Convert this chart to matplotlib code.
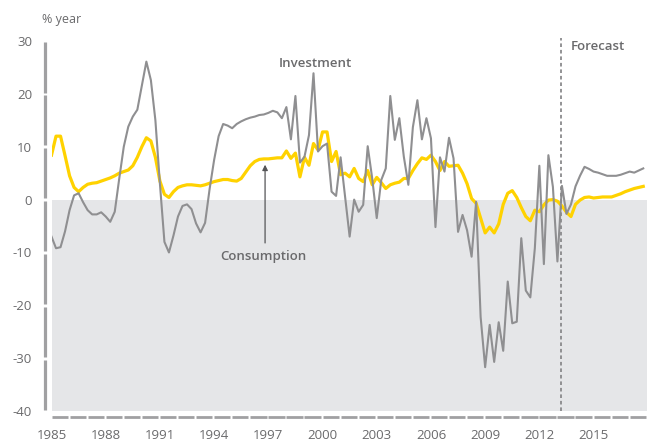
import numpy as np
import matplotlib
matplotlib.use("Agg")
import matplotlib.pyplot as plt

plt.rcParams["font.family"] = ["Open Sans", "DejaVu Sans"]
plt.rcParams["axes.unicode_minus"] = False

# --- data: quarterly % change on a year earlier, 1985Q1 - 2017Q4 ---
start_year = 1985
end_year = 2017
forecast_start = 2013.2

investment = [
    -7.0, -9.2, -9.0, -6.0,      # 1985
    -2.0, 0.8, 1.2, -0.5,        # 1986
    -2.0, -2.8, -2.8, -2.4,      # 1987
    -3.2, -4.2, -2.3, 4.0,       # 1988
    10.0, 13.8, 15.7, 17.0,      # 1989
    21.5, 26.1, 22.6, 15.0,      # 1990
    3.0, -8.0, -10.0, -6.8,      # 1991
    -3.2, -1.2, -0.9, -1.8,      # 1992
    -4.5, -6.2, -4.4, 2.0,       # 1993
    7.5, 12.0, 14.3, 14.0,       # 1994
    13.5, 14.3, 14.8, 15.2,      # 1995
    15.5, 15.7, 16.0, 16.1,      # 1996
    16.4, 16.8, 16.5, 15.4,      # 1997
    17.5, 11.4, 19.6, 7.0,       # 1998
    8.1, 12.2, 23.9, 9.1,        # 1999
    10.1, 10.6, 1.5, 0.7,        # 2000
    8.0, 0.5, -7.0, 0.0,         # 2001
    -2.3, -1.0, 10.1, 4.0,       # 2002
    -3.5, 3.7, 5.9, 19.6,        # 2003
    11.3, 15.4, 8.1, 2.8,        # 2004
    13.7, 18.8, 11.4, 15.4,      # 2005
    11.6, -5.2, 8.0, 5.3,        # 2006
    11.7, 7.8, -6.1, -2.9,       # 2007
    -5.8, -10.8, -0.4, -22.2,    # 2008
    -31.7, -23.7, -30.7, -23.2,  # 2009
    -28.6, -15.5, -23.4, -23.1,  # 2010
    -7.3, -17.2, -18.5, -9.2,    # 2011
    6.4, -12.2, 8.4, 2.4,        # 2012
    -11.7, 2.6, -2.7, -0.9,      # 2013
    2.5, 4.5, 6.2, 5.8,          # 2014
    5.3, 5.1, 4.8, 4.5,          # 2015
    4.5, 4.5, 4.7, 5.0,          # 2016
    5.3, 5.1, 5.5, 5.9,          # 2017
]

consumption = [
    8.4, 12.0, 12.0, 8.3,        # 1985
    4.5, 2.3, 1.5, 2.3,          # 1986
    2.9, 3.1, 3.2, 3.5,          # 1987
    3.8, 4.1, 4.5, 5.0,          # 1988
    5.3, 5.6, 6.4, 8.0,          # 1989
    10.0, 11.7, 11.1, 8.0,       # 1990
    3.5, 1.0, 0.4, 1.5,          # 1991
    2.3, 2.6, 2.8, 2.8,          # 1992
    2.7, 2.6, 2.8, 3.1,          # 1993
    3.4, 3.6, 3.8, 3.8,          # 1994
    3.6, 3.5, 4.0, 5.2,          # 1995
    6.4, 7.2, 7.6, 7.7,          # 1996
    7.7, 7.8, 7.9, 7.9,          # 1997
    9.2, 7.8, 8.8, 4.3,          # 1998
    8.0, 6.5, 10.6, 9.4,         # 1999
    12.8, 12.8, 7.2, 9.1,        # 2000
    4.7, 5.0, 4.3, 5.9,          # 2001
    4.0, 3.4, 5.5, 2.8,          # 2002
    4.2, 3.2, 2.1, 2.8,          # 2003
    3.1, 3.3, 4.0, 4.0,          # 2004
    5.5, 6.8, 7.9, 7.6,          # 2005
    8.4, 7.2, 5.5, 7.2,          # 2006
    6.3, 6.4, 6.5, 5.0,          # 2007
    3.0, 0.2, -0.7, -3.5,        # 2008
    -6.3, -5.2, -6.3, -4.6,      # 2009
    -0.9, 1.2, 1.7, 0.4,         # 2010
    -1.5, -3.2, -4.0, -2.0,      # 2011
    -2.3, -1.0, -0.1, 0.0,       # 2012
    -0.3, -1.2, -2.4, -3.2,      # 2013
    -0.9, -0.1, 0.4, 0.5,        # 2014
    0.3, 0.4, 0.5, 0.5,          # 2015
    0.5, 0.8, 1.1, 1.5,          # 2016
    1.8, 2.1, 2.3, 2.5,          # 2017
]

quarters = start_year + np.arange(len(investment)) / 4.0
year_ticks = list(range(1985, 2016, 3))
y_ticks = list(range(-40, 31, 10))

# --- style ---
yellow = "#FFD200"
grey_line = "#8F8F91"
shade = "#E5E6E8"
text_grey = "#6A6A6C"
axis_grey = "#A0A0A2"

fig = plt.figure(figsize=(6.47, 4.41), dpi=100)
ax = fig.add_axes([51.5 / 647, 22 / 441, 595 / 647, 378 / 441])
ax.set_xlim(1985, 2017.93)
ax.set_ylim(-41.5, 30)

ax.axhspan(-40, 0, color=shade, lw=0, zorder=0)

ax.plot(quarters, consumption, color=yellow, lw=2.3, zorder=3,
        solid_joinstyle="round")
ax.plot(quarters, investment, color=grey_line, lw=1.5, zorder=4,
        solid_joinstyle="round")

# forecast divider
ax.plot([forecast_start, forecast_start], [-40, 30.6], color="#8A8A8C",
        lw=1.3, ls=(0, (2, 1.6)), clip_on=False, zorder=5)
ax.text(forecast_start + 0.55, 28.9, "Forecast", color=text_grey,
        fontsize=9.5, fontweight="semibold", va="center", ha="left")

# series labels
ax.text(1999.6, 25.7, "Investment", color=text_grey, fontsize=9.5,
        fontweight="semibold", ha="center", va="center")
ax.text(1996.7, -10.7, "Consumption", color=text_grey, fontsize=9.5,
        fontweight="semibold", ha="center", va="center")
ax.annotate("", xy=(1996.82, 6.6), xytext=(1996.82, -8.2),
            arrowprops=dict(arrowstyle="-|>", color="#555557", lw=0.9,
                            mutation_scale=8, shrinkA=0, shrinkB=0))

# axes decoration: segmented left spine and dashed x axis
for s in ax.spines.values():
    s.set_visible(False)
spine_x = 1985 - 7 / 18.07
for lo in y_ticks[:-1]:
    ax.plot([spine_x, spine_x], [lo + 0.25, lo + 9.75], color=axis_grey,
            lw=2.3, solid_capstyle="butt", clip_on=False)
for yr in range(start_year, end_year + 1):
    ax.plot([yr, yr + 0.9], [-41.1, -41.1], color=axis_grey, lw=2.0,
            solid_capstyle="butt", clip_on=False)

ax.set_xticks(year_ticks)
ax.set_xticklabels([str(y) for y in year_ticks])
ax.set_yticks(y_ticks)
ax.set_yticklabels([str(v) for v in y_ticks])
ax.tick_params(axis="x", length=0, pad=7, labelsize=9.5, labelcolor=text_grey)
ax.tick_params(axis="y", length=0, pad=14, labelsize=9.5, labelcolor=text_grey)

fig.text(42 / 647, 1 - 20 / 441, "% year", color=text_grey, fontsize=9,
         ha="left", va="center")

fig.savefig("out.png", dpi=100)
